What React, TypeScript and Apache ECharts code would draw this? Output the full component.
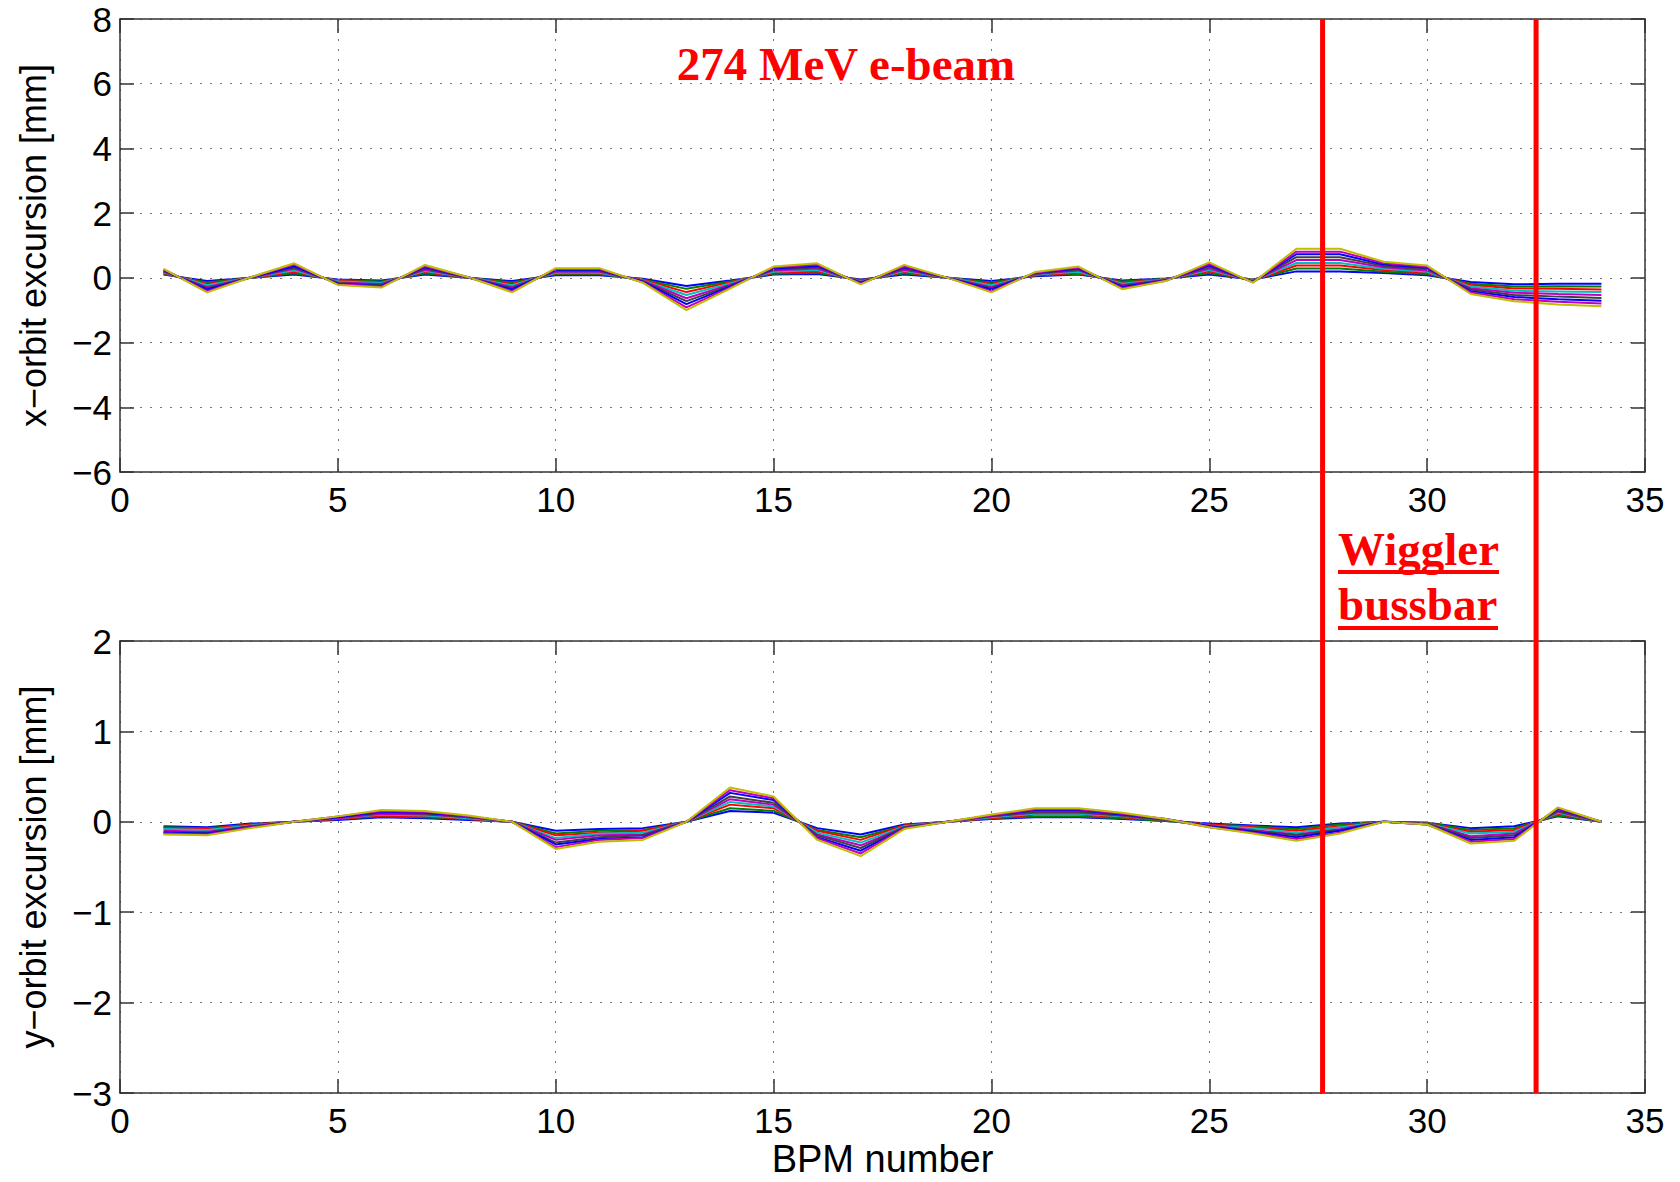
import React, { useEffect, useRef } from "react";
import * as echarts from "echarts";

// BPM index along the beamline
const BPM = [1,2,3,4,5,6,7,8,9,10,11,12,13,14,15,16,17,18,19,20,21,22,23,24,25,26,27,28,29,30,31,32,33,34];

// Horizontal orbit excursion traces [mm] (smallest to largest bussbar current)
const X_ORBIT_1 = [0.10,-0.10,0.00,0.10,-0.05,-0.08,0.10,0.00,-0.10,0.08,0.08,-0.03,-0.25,-0.08,0.10,0.12,-0.05,0.10,0.00,-0.10,0.05,0.10,-0.08,-0.02,0.10,-0.05,0.20,0.20,0.15,0.08,-0.13,-0.20,-0.18,-0.18];
const X_ORBIT_2 = [0.12,-0.14,0.00,0.14,-0.07,-0.11,0.14,0.00,-0.14,0.11,0.11,-0.05,-0.34,-0.11,0.13,0.16,-0.07,0.14,0.00,-0.14,0.07,0.13,-0.11,-0.03,0.15,-0.06,0.29,0.29,0.19,0.12,-0.18,-0.27,-0.26,-0.27];
const X_ORBIT_3 = [0.15,-0.19,0.00,0.19,-0.09,-0.14,0.18,0.00,-0.19,0.14,0.14,-0.06,-0.44,-0.14,0.16,0.20,-0.09,0.18,0.00,-0.19,0.08,0.16,-0.15,-0.04,0.20,-0.08,0.38,0.38,0.24,0.16,-0.22,-0.33,-0.34,-0.36];
const X_ORBIT_4 = [0.17,-0.23,0.01,0.23,-0.11,-0.16,0.21,0.01,-0.23,0.16,0.16,-0.08,-0.53,-0.17,0.19,0.24,-0.11,0.21,0.00,-0.23,0.10,0.19,-0.18,-0.05,0.24,-0.09,0.46,0.46,0.28,0.19,-0.27,-0.40,-0.42,-0.44];
const X_ORBIT_5 = [0.19,-0.28,0.01,0.28,-0.14,-0.19,0.25,0.01,-0.28,0.19,0.19,-0.09,-0.63,-0.21,0.23,0.29,-0.13,0.25,0.00,-0.28,0.12,0.23,-0.22,-0.06,0.29,-0.10,0.55,0.55,0.33,0.23,-0.32,-0.46,-0.50,-0.53];
const X_ORBIT_6 = [0.21,-0.32,0.01,0.32,-0.16,-0.22,0.29,0.01,-0.32,0.22,0.22,-0.11,-0.72,-0.24,0.26,0.33,-0.14,0.29,0.00,-0.32,0.13,0.26,-0.25,-0.07,0.34,-0.11,0.64,0.64,0.37,0.27,-0.36,-0.53,-0.58,-0.62];
const X_ORBIT_7 = [0.24,-0.36,0.01,0.36,-0.18,-0.25,0.33,0.01,-0.36,0.25,0.25,-0.12,-0.81,-0.27,0.29,0.37,-0.16,0.33,0.00,-0.36,0.15,0.29,-0.28,-0.08,0.39,-0.13,0.73,0.73,0.41,0.31,-0.41,-0.59,-0.66,-0.71];
const X_ORBIT_8 = [0.26,-0.41,0.02,0.41,-0.20,-0.27,0.36,0.02,-0.41,0.27,0.27,-0.14,-0.91,-0.30,0.32,0.41,-0.18,0.36,0.00,-0.41,0.16,0.32,-0.32,-0.09,0.43,-0.14,0.81,0.81,0.46,0.34,-0.45,-0.66,-0.74,-0.79];
const X_ORBIT_9 = [0.28,-0.45,0.02,0.45,-0.22,-0.30,0.40,0.02,-0.45,0.30,0.30,-0.15,-1.00,-0.33,0.35,0.45,-0.20,0.40,0.00,-0.45,0.18,0.35,-0.35,-0.10,0.48,-0.15,0.90,0.90,0.50,0.38,-0.50,-0.72,-0.82,-0.88];

// Vertical orbit excursion traces [mm]
const Y_ORBIT_1 = [-0.05,-0.06,-0.02,0,0.02,0.05,0.04,0.02,0,-0.10,-0.08,-0.07,0,0.12,0.10,-0.07,-0.14,-0.03,0,0.03,0.05,0.05,0.03,0.01,-0.02,-0.04,-0.06,-0.02,0,-0.01,-0.07,-0.05,0.06,0];
const Y_ORBIT_2 = [-0.06,-0.07,-0.03,0,0.03,0.06,0.05,0.03,0,-0.13,-0.10,-0.09,0,0.15,0.12,-0.09,-0.17,-0.04,0,0.04,0.06,0.06,0.04,0.01,-0.03,-0.05,-0.08,-0.03,0,-0.01,-0.09,-0.07,0.07,0];
const Y_ORBIT_3 = [-0.07,-0.08,-0.03,0,0.03,0.07,0.06,0.03,0,-0.15,-0.12,-0.10,0,0.19,0.15,-0.10,-0.20,-0.04,0,0.04,0.08,0.08,0.05,0.02,-0.03,-0.06,-0.10,-0.05,0,-0.02,-0.11,-0.09,0.09,0];
const Y_ORBIT_4 = [-0.08,-0.09,-0.04,0,0.04,0.08,0.07,0.04,0,-0.18,-0.13,-0.12,0,0.22,0.17,-0.12,-0.23,-0.05,0,0.05,0.09,0.09,0.06,0.02,-0.04,-0.07,-0.12,-0.06,0,-0.02,-0.13,-0.11,0.10,0];
const Y_ORBIT_5 = [-0.10,-0.11,-0.05,0,0.04,0.09,0.08,0.05,0,-0.20,-0.15,-0.14,0,0.25,0.19,-0.14,-0.26,-0.06,0,0.06,0.10,0.10,0.07,0.02,-0.04,-0.09,-0.14,-0.08,0,-0.02,-0.16,-0.13,0.11,0];
const Y_ORBIT_6 = [-0.11,-0.12,-0.05,0,0.05,0.10,0.09,0.05,0,-0.23,-0.17,-0.15,0,0.28,0.21,-0.15,-0.29,-0.06,0,0.06,0.11,0.11,0.07,0.02,-0.05,-0.10,-0.15,-0.09,0,-0.02,-0.18,-0.15,0.12,0];
const Y_ORBIT_7 = [-0.12,-0.13,-0.06,0,0.05,0.11,0.10,0.06,0,-0.25,-0.19,-0.17,0,0.32,0.24,-0.17,-0.32,-0.07,0,0.07,0.13,0.13,0.08,0.03,-0.05,-0.11,-0.17,-0.10,0,-0.03,-0.20,-0.17,0.14,0];
const Y_ORBIT_8 = [-0.13,-0.14,-0.06,0,0.06,0.12,0.11,0.06,0,-0.28,-0.20,-0.18,0,0.35,0.26,-0.18,-0.35,-0.07,0,0.07,0.14,0.14,0.09,0.03,-0.06,-0.12,-0.19,-0.12,0,-0.03,-0.22,-0.19,0.15,0];
const Y_ORBIT_9 = [-0.14,-0.15,-0.07,0,0.06,0.13,0.12,0.07,0,-0.30,-0.22,-0.20,0,0.38,0.28,-0.20,-0.38,-0.08,0,0.08,0.15,0.15,0.10,0.03,-0.06,-0.13,-0.21,-0.13,0,-0.03,-0.24,-0.21,0.16,0];

const X_TRACES = [X_ORBIT_1, X_ORBIT_2, X_ORBIT_3, X_ORBIT_4, X_ORBIT_5, X_ORBIT_6, X_ORBIT_7, X_ORBIT_8, X_ORBIT_9];
const Y_TRACES = [Y_ORBIT_1, Y_ORBIT_2, Y_ORBIT_3, Y_ORBIT_4, Y_ORBIT_5, Y_ORBIT_6, Y_ORBIT_7, Y_ORBIT_8, Y_ORBIT_9];

// MATLAB-like colour order
const TRACE_COLORS = ["#0000ff", "#008000", "#ff0000", "#00bfbf", "#bf00bf", "#404040", "#0000ff", "#bf00bf", "#bfbf00"];

// Axis ranges [min, max, interval]
const X_RANGE = [0, 35, 5];
const TOP_Y_RANGE = [-6, 8, 2];
const BOTTOM_Y_RANGE = [-3, 2, 1];

// Wiggler bussbar edges (BPM units)
const WIGGLER_EDGES = [27.6, 32.5];

const TITLE_TEXT = "274 MeV e-beam";
const WIGGLER_LINES = ["Wiggler", "bussbar"];
const X_NAME = "BPM number";
const TOP_Y_NAME = "x\u2212orbit excursion [mm]";
const BOTTOM_Y_NAME = "y\u2212orbit excursion [mm]";

export default function App() {
  const ref = useRef<HTMLDivElement>(null);

  useEffect(() => {
    const chart = echarts.init(ref.current as HTMLDivElement, null, { renderer: "svg" });
    const sans = "'Liberation Sans', Arial, Helvetica, sans-serif";
    const fmt = (v: number) => String(v).replace("-", "\u2212");
    const axisColor = "#333";
    const lineStyle = { color: axisColor, width: 1.5 };
    const gridLine = { show: true, lineStyle: { type: [2, 8] as any, color: "#777", width: 1 } };

    const grids = [
      { left: 120, top: 19, width: 1525, height: 453 },
      { left: 120, top: 641, width: 1525, height: 452 },
    ];

    const xAxes: any[] = [];
    const yAxes: any[] = [];
    const yRanges = [TOP_Y_RANGE, BOTTOM_Y_RANGE];
    const yNames = [TOP_Y_NAME, BOTTOM_Y_NAME];
    for (let g = 0; g < 2; g++) {
      xAxes.push({
        type: "value", gridIndex: g, position: "bottom",
        min: X_RANGE[0], max: X_RANGE[1], interval: X_RANGE[2],
        axisLine: { show: true, onZero: false, lineStyle },
        axisTick: { show: true, inside: true, length: 14, lineStyle },
        axisLabel: { fontSize: 35, color: "#000", fontFamily: sans, margin: 10, formatter: fmt },
        splitLine: gridLine,
        name: g === 1 ? X_NAME : "",
        nameLocation: "middle", nameGap: 47,
        nameTextStyle: { fontSize: 38, color: "#000", fontFamily: sans },
        z: 5,
      });
      xAxes.push({
        type: "value", gridIndex: g, position: "top",
        min: X_RANGE[0], max: X_RANGE[1], interval: X_RANGE[2],
        axisLine: { show: true, onZero: false, lineStyle },
        axisTick: { show: true, inside: true, length: 14, lineStyle },
        axisLabel: { show: false },
        splitLine: { show: false },
        z: 5,
      });
      const yr = yRanges[g];
      yAxes.push({
        type: "value", gridIndex: g, position: "left",
        min: yr[0], max: yr[1], interval: yr[2],
        axisLine: { show: true, onZero: false, lineStyle },
        axisTick: { show: true, inside: true, length: 14, lineStyle },
        axisLabel: { fontSize: 35, color: "#000", fontFamily: sans, margin: 8, formatter: fmt },
        splitLine: gridLine,
        name: yNames[g],
        nameLocation: "middle", nameGap: 69,
        nameTextStyle: { fontSize: 36, color: "#000", fontFamily: sans },
        z: 5,
      });
      yAxes.push({
        type: "value", gridIndex: g, position: "right",
        min: yr[0], max: yr[1], interval: yr[2],
        axisLine: { show: true, onZero: false, lineStyle },
        axisTick: { show: true, inside: true, length: 14, lineStyle },
        axisLabel: { show: false },
        splitLine: { show: false },
        z: 5,
      });
    }

    const series: any[] = [];
    X_TRACES.forEach((tr, t) => {
      series.push({
        type: "line", xAxisIndex: 0, yAxisIndex: 0,
        data: BPM.map((b, i) => [b, tr[i]]),
        symbol: "none", showSymbol: false,
        lineStyle: { width: 2, color: TRACE_COLORS[t] },
        itemStyle: { color: TRACE_COLORS[t] },
        z: 2,
      });
    });
    Y_TRACES.forEach((tr, t) => {
      series.push({
        type: "line", xAxisIndex: 2, yAxisIndex: 2,
        data: BPM.map((b, i) => [b, tr[i]]),
        symbol: "none", showSymbol: false,
        lineStyle: { width: 2, color: TRACE_COLORS[t] },
        itemStyle: { color: TRACE_COLORS[t] },
        z: 2,
      });
    });

    chart.setOption({
      animation: false,
      backgroundColor: "#ffffff",
      grid: grids,
      xAxis: xAxes,
      yAxis: yAxes,
      series,
    });

    const yTop = chart.convertToPixel({ yAxisIndex: 0 } as any, TOP_Y_RANGE[1]) as number;
    const yBottom = chart.convertToPixel({ yAxisIndex: 2 } as any, BOTTOM_Y_RANGE[0]) as number;
    const edgeX = WIGGLER_EDGES.map((e) => chart.convertToPixel({ xAxisIndex: 0 } as any, e) as number);

    const serif = "'Liberation Serif', 'Times New Roman', serif";
    const redText = (text: string, x: number, y: number, align: string) => ({
      type: "text", x, y, z: 20,
      style: {
        text, fill: "#ff0000",
        font: `bold 47px ${serif}`,
        fontSize: 47, fontWeight: "bold", fontFamily: serif,
        align, textAlign: align, verticalAlign: "middle", textVerticalAlign: "middle",
      },
    });

    chart.setOption({
      graphic: [
        ...edgeX.map((x) => ({
          type: "line", z: 15,
          shape: { x1: x, y1: yTop, x2: x, y2: yBottom },
          style: { stroke: "#ff0000", lineWidth: 5 },
        })),
        redText(TITLE_TEXT, 846, 64, "center"),
        redText(WIGGLER_LINES[0], 1338, 549, "left"),
        redText(WIGGLER_LINES[1], 1338, 604, "left"),
        { type: "rect", z: 20, shape: { x: 1338, y: 570, width: 161, height: 4 }, style: { fill: "#ff0000" } },
        { type: "rect", z: 20, shape: { x: 1338, y: 626, width: 160, height: 4 }, style: { fill: "#ff0000" } },
      ],
    });

    return () => chart.dispose();
  }, []);

  return (
    <div
      ref={ref}
      style={{ position: "fixed", left: 0, top: 0, width: 1680, height: 1182, background: "#fff" }}
    />
  );
}
